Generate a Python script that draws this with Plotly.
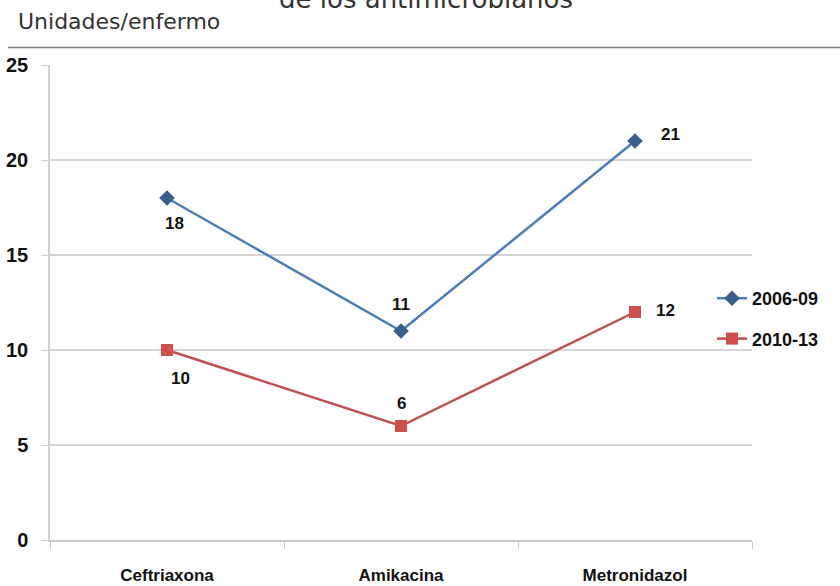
import plotly.graph_objects as go

categories = ["Ceftriaxona", "Amikacina", "Metronidazol"]
series_2006 = [18, 11, 21]
series_2010 = [10, 6, 12]
series_names = ["2006-09", "2010-13"]
y_ticks = [0, 5, 10, 15, 20, 25]

# label offsets (pixels) relative to each point
off_2006 = [(7, -25), (0, 27), (35, 7)]
off_2010 = [(13, -28), (0, 23), (30, 2)]

W, H = 840, 586
L, R, T, B = 50, 88, 65, 46
pw, ph = W - L - R, H - T - B

def px_x(x):
    return (x - L) / pw

def px_y(y):
    return 1 + (T - y) / ph

bold = dict(family="Liberation Sans, Arial", size=17, color="#111111", weight="bold")

fig = go.Figure()
fig.add_trace(go.Scatter(
    x=categories, y=series_2006, name=series_names[0], mode="lines+markers",
    line=dict(color="#4a7ebb", width=2.5),
    marker=dict(symbol="diamond", size=12, color="#3a5f8c"),
    legendgroup="a",
))
fig.add_trace(go.Scatter(
    x=categories, y=series_2010, name=series_names[1], mode="lines+markers",
    line=dict(color="#c0504d", width=2.5),
    marker=dict(symbol="square", size=12, color="#cf4f4b"),
    legendgroup="b",
))

for vals, offs in ((series_2006, off_2006), (series_2010, off_2010)):
    for c, v, (dx, dy) in zip(categories, vals, offs):
        fig.add_annotation(x=c, y=v, text=str(v), showarrow=False,
                           xshift=dx, yshift=dy, font=bold)

fig.update_layout(
    width=W, height=H, template="none",
    margin=dict(l=L, r=R, t=T, b=B, autoexpand=False),
    paper_bgcolor="white", plot_bgcolor="white",
    showlegend=True,
    legend=dict(x=px_x(712), y=px_y(280), xanchor="left", yanchor="top",
                font=dict(bold, size=18), bgcolor="rgba(0,0,0,0)", tracegroupgap=14,
                traceorder="grouped"),
    xaxis=dict(type="category", range=[-0.5, 2.5], showgrid=False,
               showline=True, linecolor="#c8c8c8", linewidth=1.5,
               ticks="outside", ticklen=7, tickcolor="#c8c8c8",
               tickson="boundaries", tickfont=bold, automargin=False,
               ticklabelstandoff=19, zeroline=False),
    yaxis=dict(range=[0, 25], tickvals=y_ticks, showgrid=True,
               gridcolor="#d4d4d4", gridwidth=1.5,
               showline=True, linecolor="#d0d0d0", linewidth=1.5,
               ticks="outside", ticklen=7, tickcolor="#d0d0d0",
               tickfont=dict(bold, size=20), automargin=False, ticklabelstandoff=9,
               zeroline=False),
    font=dict(family="Liberation Sans, Arial"),
)

fig.add_shape(type="line", xref="paper", yref="paper",
              x0=px_x(8), x1=px_x(842), y0=px_y(47.5), y1=px_y(47.5),
              line=dict(color="#7a7a7a", width=1.5))

fig.add_annotation(text="Unidades/enfermo", xref="paper", yref="paper",
                   x=px_x(16), y=px_y(21), xanchor="left", yanchor="middle",
                   showarrow=False,
                   font=dict(family="DejaVu Sans, Verdana", size=22, color="#333333"))
fig.add_annotation(text="de los antimicrobianos", xref="paper", yref="paper",
                   x=px_x(426), y=px_y(-1), xanchor="center", yanchor="middle",
                   showarrow=False,
                   font=dict(family="DejaVu Sans, Verdana", size=26, color="#333333"))

fig.write_html("out.html", config={"displayModeBar": False},
               post_script="document.body.style.margin='0';")
